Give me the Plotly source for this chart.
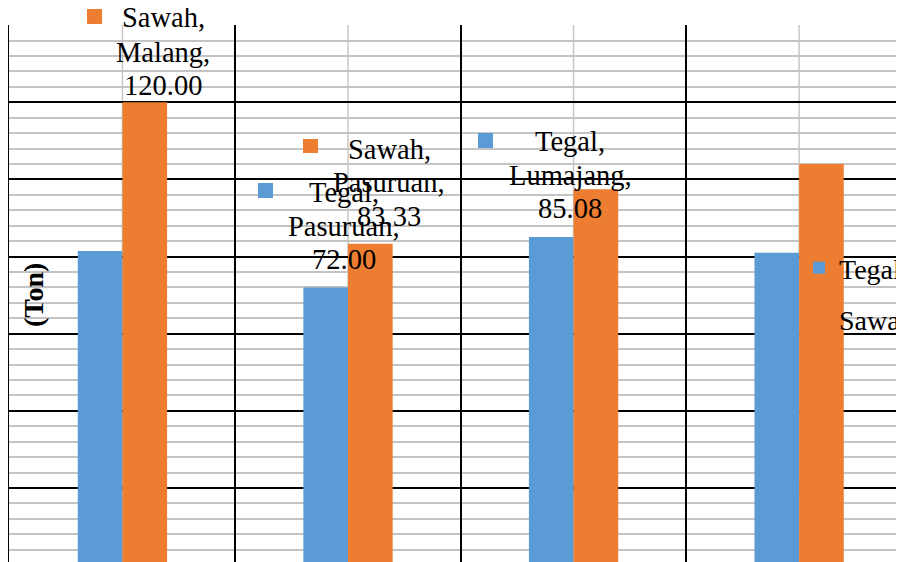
import plotly.graph_objects as go

# ---- data ----
categories = ["Malang", "Pasuruan", "Lumajang", "Probolinggo"]
series_names = ["Tegal", "Sawah"]
tegal = [81.45, 72.00, 85.08, 81.00]
sawah = [120.00, 83.33, 97.45, 104.00]
y_title = "(Ton)"

BLUE = "#5B9BD5"
ORANGE = "#ED7D31"
FONT = "'Liberation Serif', 'Times New Roman', Times, serif"

# page body has an 8px margin; work in window coordinates
OFF = 8
W, H = 904 - OFF, 562 - OFF
ML, MT = 9 - OFF, 25 - OFF
MR, MB = 0, 0
PW, PH = W - ML - MR, H - MT - MB


def px(x):
    return (x - OFF - ML) / PW


def py(y):
    return (H - MB - (y - OFF)) / PH


fig = go.Figure()
fig.add_trace(go.Bar(name=series_names[0], x=categories, y=tegal,
                     marker=dict(color=BLUE, line=dict(width=0)),
                     legendgroup="a"))
fig.add_trace(go.Bar(name=series_names[1], x=categories, y=sawah,
                     marker=dict(color=ORANGE, line=dict(width=0)),
                     legendgroup="b"))

# gray center lines for each category
shapes = []
for c in categories:
    shapes.append(dict(type="line", xref="x", yref="paper", x0=c, x1=c, y0=0, y1=1,
                       line=dict(color="#C8C8C8", width=1.5), layer="below"))

# data labels (series, category, value) with legend key
labels = [
    (1, 0, 163, [27, 61.5, 95], (87, 102, 9, 24)),
    (1, 1, 389, [159, 192, 225.5], (303, 318, 139, 153)),
    (0, 1, 344, [202, 235.5, 268.5], (258, 273, 183, 198)),
    (0, 2, 570, [151, 185, 218], (478, 493, 133, 148)),
]
vals = [tegal, sawah]
cols = [BLUE, ORANGE]
annotations = []
for s, ci, cx, bls, box in labels:
    lines = [series_names[s] + ",", categories[ci] + ",", "%.2f" % vals[s][ci]]
    for txt, bl in zip(lines, bls):
        annotations.append(dict(text=txt, xref="paper", yref="paper",
                                x=px(cx), y=py(bl - 9.5), xanchor="center", yanchor="middle",
                                showarrow=False, font=dict(family=FONT, size=28.5, color="black")))
    x0, x1, y0, y1 = box
    shapes.append(dict(type="rect", xref="paper", yref="paper",
                       x0=px(x0), x1=px(x1), y0=py(y1), y1=py(y0),
                       fillcolor=cols[s], line=dict(width=0), layer="above"))

annotations.append(dict(text="<b>" + y_title + "</b>", xref="paper", yref="paper",
                        x=px(33), y=py(295), textangle=-90, showarrow=False,
                        xanchor="center", yanchor="middle",
                        font=dict(family=FONT, size=28, color="black")))

fig.update_layout(
    width=W, height=H,
    margin=dict(l=ML, r=MR, t=MT, b=MB, autoexpand=False),
    paper_bgcolor="white", plot_bgcolor="white",
    font=dict(family=FONT),
    barmode="group", bargap=0.604, bargroupgap=0,
    shapes=shapes, annotations=annotations,
    showlegend=True,
    legend=dict(x=px(799), y=py(243), xanchor="left", yanchor="top",
                bgcolor="rgba(0,0,0,0)", borderwidth=0,
                font=dict(family=FONT, size=28, color="black"),
                traceorder="grouped", tracegroupgap=12),
    xaxis=dict(type="category", range=[-0.503, 3.465], tickson="boundaries",
               showgrid=True, gridcolor="black", gridwidth=1.5,
               showticklabels=False, ticks="", showline=False, zeroline=False),
    yaxis=dict(range=[0.83, 140.05], dtick=20, tick0=0,
               showgrid=True, gridcolor="black", gridwidth=2,
               minor=dict(dtick=4, showgrid=True, gridcolor="#C4C4C4", gridwidth=2),
               showticklabels=False, ticks="", zeroline=False,
               showline=True, linecolor="black", linewidth=1.5),
)

fig.write_html("out.html")
